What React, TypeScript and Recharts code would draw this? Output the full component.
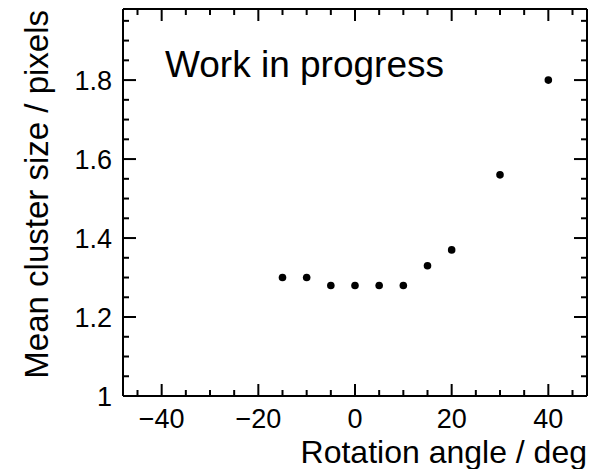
import React from 'react';
import { ScatterChart, Scatter, XAxis, YAxis, Label } from 'recharts';

const angles = [-15, -10, -5, 0, 5, 10, 15, 20, 30, 40];
const clusterSize = [1.3, 1.3, 1.28, 1.28, 1.28, 1.28, 1.33, 1.37, 1.56, 1.8];

const xMajorTicks = [-40, -20, 0, 20, 40];
const xAllTicks = [-45, -40, -35, -30, -25, -20, -15, -10, -5, 0, 5, 10, 15, 20, 25, 30, 35, 40, 45];
const yMajorTicks = [1, 1.2, 1.4, 1.6, 1.8];
const yAllTicks = [1, 1.05, 1.1, 1.15, 1.2, 1.25, 1.3, 1.35, 1.4, 1.45, 1.5, 1.55, 1.6, 1.65, 1.7, 1.75, 1.8, 1.85, 1.9, 1.95];

const data = angles.map((a, i) => ({ x: a, y: clusterSize[i] }));

const FONT = '"Liberation Sans", Arial, Helvetica, sans-serif';
const MAJOR = 12;
const MINOR = 6;

const isMajor = (v: number, list: number[]) => list.some((m) => Math.abs(m - v) < 1e-6);

const fmtX = (v: number) => (v < 0 ? '\u2212' + Math.abs(v) : String(v));
const fmtY = (v: number) => (Math.abs(v - 1) < 1e-6 ? '1' : v.toFixed(1));

const BottomTick = (props: any) => {
  const { x, y, payload } = props;
  const major = isMajor(payload.value, xMajorTicks);
  return (
    <g>
      <line x1={x} x2={x} y1={y} y2={y - (major ? MAJOR : MINOR)} stroke="#000" strokeWidth={2} />
      {major && (
        <text x={x} y={y + 32} textAnchor="middle" fontFamily={FONT} fontSize={27} fill="#000">
          {fmtX(payload.value)}
        </text>
      )}
    </g>
  );
};

const TopTick = (props: any) => {
  const { x, y, payload } = props;
  const major = isMajor(payload.value, xMajorTicks);
  return <line x1={x} x2={x} y1={y} y2={y + (major ? MAJOR : MINOR)} stroke="#000" strokeWidth={2} />;
};

const LeftTick = (props: any) => {
  const { x, y, payload } = props;
  const major = isMajor(payload.value, yMajorTicks);
  return (
    <g>
      <line x1={x} x2={x + (major ? MAJOR + 1 : MINOR)} y1={y} y2={y} stroke="#000" strokeWidth={2} />
      {major && (
        <text x={x - 11} y={y} dy="0.36em" textAnchor="end" fontFamily={FONT} fontSize={27} fill="#000">
          {fmtY(payload.value)}
        </text>
      )}
    </g>
  );
};

const RightTick = (props: any) => {
  const { x, y, payload } = props;
  const major = isMajor(payload.value, yMajorTicks);
  return <line x1={x} x2={x - (major ? MAJOR + 1 : MINOR)} y1={y} y2={y} stroke="#000" strokeWidth={2} />;
};

const Dot = (props: any) => <circle cx={props.cx} cy={props.cy} r={3.8} fill="#000" />;

export default function App() {
  return (
    <div style={{ position: 'absolute', left: 0, top: 0, width: 598, height: 469, background: '#fff' }}>
      <ScatterChart width={598} height={469} margin={{ top: 8, right: 10, bottom: 0, left: 0 }}>
        <XAxis
          xAxisId="b"
          type="number"
          dataKey="x"
          domain={[-48, 48]}
          ticks={xAllTicks}
          interval={0}
          allowDataOverflow
          height={73}
          tickSize={0}
          tickMargin={0}
          tickLine={false}
          tick={<BottomTick />}
          axisLine={{ stroke: '#000', strokeWidth: 2 }}
        >
          <Label
            content={(p: any) => {
              const vb = p.viewBox;
              return (
                <text x={vb.x + vb.width} y={vb.y + 67} textAnchor="end" fontFamily={FONT} fontSize={32} fill="#000">
                  Rotation angle / deg
                </text>
              );
            }}
          />
        </XAxis>
        <XAxis
          xAxisId="t"
          orientation="top"
          type="number"
          dataKey="x"
          domain={[-48, 48]}
          ticks={xAllTicks}
          interval={0}
          allowDataOverflow
          height={1}
          tickSize={0}
          tickMargin={0}
          tickLine={false}
          tick={<TopTick />}
          axisLine={{ stroke: '#000', strokeWidth: 2 }}
        />
        <YAxis
          yAxisId="l"
          type="number"
          dataKey="y"
          domain={[1, 1.98]}
          ticks={yAllTicks}
          interval={0}
          allowDataOverflow
          width={123}
          tickSize={0}
          tickMargin={0}
          tickLine={false}
          tick={<LeftTick />}
          axisLine={{ stroke: '#000', strokeWidth: 2 }}
        >
          <Label
            content={(p: any) => {
              const vb = p.viewBox;
              const lx = vb.x + 48;
              const ly = vb.y + 1;
              return (
                <text
                  x={lx}
                  y={ly}
                  transform={`rotate(-90 ${lx} ${ly})`}
                  textAnchor="end"
                  fontFamily={FONT}
                  fontSize={33}
                  fill="#000"
                >
                  Mean cluster size / pixels
                </text>
              );
            }}
          />
        </YAxis>
        <YAxis
          yAxisId="r"
          orientation="right"
          type="number"
          dataKey="y"
          domain={[1, 1.98]}
          ticks={yAllTicks}
          interval={0}
          allowDataOverflow
          width={1}
          tickSize={0}
          tickMargin={0}
          tickLine={false}
          tick={<RightTick />}
          axisLine={{ stroke: '#000', strokeWidth: 2 }}
        />
        <Scatter xAxisId="b" yAxisId="l" data={data} shape={<Dot />} isAnimationActive={false} />
        <text x={165} y={77} fontFamily={FONT} fontSize={37} fill="#000">
          Work in progress
        </text>
      </ScatterChart>
    </div>
  );
}
